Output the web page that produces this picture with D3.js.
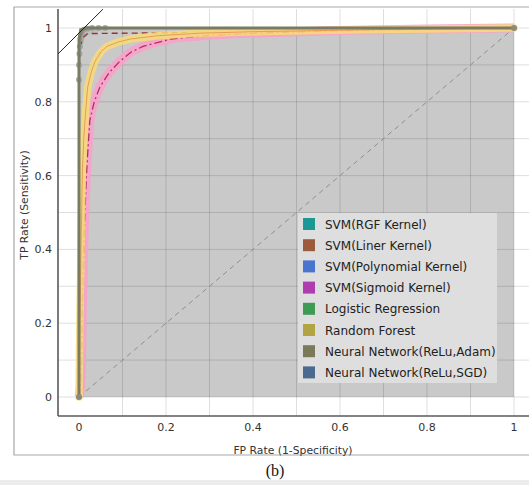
<!DOCTYPE html>
<html><head><meta charset="utf-8">
<script src="https://cdn.jsdelivr.net/npm/d3@7"></script>
<style>html,body{margin:0;padding:0;background:#fff;}svg{display:block;}</style>
</head><body>
<svg id="c" width="529" height="485"></svg>
<script>
// ---- data ----
const seriesNames = ["SVM(RGF Kernel)","SVM(Liner Kernel)","SVM(Polynomial Kernel)","SVM(Sigmoid Kernel)","Logistic Regression","Random Forest","Neural Network(ReLu,Adam)","Neural Network(ReLu,SGD)"];
const legendColors = ["#1f9795","#9c5b3d","#4b74cf","#ae3eaf","#3f9a55","#b2a443","#7a7a5a","#4a6b8e"];
const xTicks = [0,0.2,0.4,0.6,0.8,1];
const yTicks = [0,0.2,0.4,0.6,0.8,1];
const gridVals = [0.1,0.2,0.3,0.4,0.5,0.6,0.7,0.8,0.9,1];
const yGridVals = [0,0.1,0.2,0.3,0.4,0.5,0.6,0.7,0.8,0.9,1];

const rbfFpr = [0,0,0.002,0.006,0.015,0.04,1];
const rbfTpr = [0,0.9,0.96,0.985,0.995,1,1];
const linFpr = [0,0,0.003,0.01,0.02,0.3,0.45,1];
const linTpr = [0,0.88,0.95,0.975,0.985,0.988,0.99,1];
const polyFpr = [0,0,0.003,0.01,0.025,0.06,1];
const polyTpr = [0,0.89,0.95,0.98,0.993,1,1];
const sigFpr = [0,0.005,0.008,0.012,0.017,0.021,0.025,0.035,0.048,0.07,0.094,0.12,0.147,0.21,0.3,0.45,0.6,0.8,1];
const sigTpr = [0,0.05,0.26,0.45,0.6,0.68,0.75,0.8,0.84,0.88,0.91,0.935,0.95,0.97,0.98,0.988,0.993,0.997,1];
const logFpr = [0,0,0.004,0.012,0.03,0.07,1];
const logTpr = [0,0.87,0.94,0.975,0.99,1,1];
const rfFpr = [0,0.002,0.004,0.006,0.008,0.011,0.015,0.02,0.028,0.037,0.05,0.064,0.09,0.117,0.18,0.28,0.4,0.55,0.7,0.85,1];
const rfTpr = [0,0.2,0.35,0.5,0.62,0.7,0.77,0.84,0.88,0.91,0.935,0.95,0.962,0.97,0.979,0.986,0.99,0.993,0.996,0.998,1];
const adamFpr = [0,0,0.004,0.015,1];
const adamTpr = [0,0.97,0.995,1,1];
const sgdFpr = [0,0,0,0.001,0.002,0.004,0.007,0.012,0.02,0.03,0.045,0.06,1];
const sgdTpr = [0,0.86,0.9,0.93,0.95,0.97,0.985,0.995,0.998,1,1,1,1];
const chanceFpr = [0,1];
const chanceTpr = [0,1];
const cornerLineX = [-0.048,0.055];
const cornerLineY = [0.93,1.051];

// ---- drawing ----
const svg = d3.select("#c");
const x = d3.scaleLinear().domain([0,1]).range([79,514]);
const y = d3.scaleLinear().domain([0,1]).range([397,28]);
const xMin = x.invert(58), yMin = y.invert(416), yMax = y.invert(9);

svg.append("rect").attr("x",0).attr("y",480).attr("width",529).attr("height",5).attr("fill","#ececec");
svg.append("path").attr("d","M529,7 H14 V455 H529").attr("fill","none").attr("stroke","#a8a8a8").attr("stroke-width",1.2);

const pts = (fx,fy)=>fx.map((v,i)=>[v,fy[i]]);
const line = d3.line().x(d=>x(d[0])).y(d=>y(d[1]));

const area = d3.area().x(d=>x(d[0])).y0(y(0)).y1(d=>y(d[1]));
svg.append("path").datum(pts([0,0,1],[0,1,1])).attr("d",area).attr("fill","#c9c9c9");

const g = svg.append("g");
g.selectAll(".vg").data(gridVals).join("line")
  .attr("x1",d=>x(d)).attr("x2",d=>x(d)).attr("y1",y(yMax)).attr("y2",y(yMin))
  .attr("stroke","rgba(0,0,0,0.13)").attr("stroke-width",1);
g.selectAll(".hg").data(yGridVals).join("line")
  .attr("x1",x(xMin)).attr("x2",529).attr("y1",d=>y(d)).attr("y2",d=>y(d))
  .attr("stroke","rgba(0,0,0,0.13)").attr("stroke-width",1);

svg.append("path").datum(pts(chanceFpr,chanceTpr)).attr("d",line).attr("fill","none")
  .attr("stroke","#8f8f8f").attr("stroke-width",1).attr("stroke-dasharray","5,4");

[[rbfFpr,rbfTpr,"#e8b0a0"],[polyFpr,polyTpr,"#b7b7d8"],[logFpr,logTpr,"#a9c0a9"]].forEach(s=>{
  svg.append("path").datum(pts(s[0],s[1])).attr("d",line).attr("fill","none")
    .attr("stroke",s[2]).attr("stroke-width",1.5).attr("opacity",0.8);
});
svg.append("path").datum(pts(linFpr,linTpr)).attr("d",line).attr("fill","none")
  .attr("stroke","#a0302a").attr("stroke-width",1.4).attr("stroke-dasharray","6,4");

// sigmoid pink band + dash-dot
svg.append("path").datum(pts(sigFpr,sigTpr)).attr("d",line.curve(d3.curveMonotoneX)).attr("fill","none")
  .attr("stroke","#f7a2ca").attr("stroke-width",9).attr("opacity",0.9).attr("stroke-linejoin","round");
line.curve(d3.curveLinear);
svg.append("path").datum(pts(sigFpr,sigTpr)).attr("d",line).attr("fill","none")
  .attr("stroke","#b0305f").attr("stroke-width",1.3).attr("stroke-dasharray","8,3,2,3");

// random forest yellow band + thin line
svg.append("path").datum(pts(rfFpr,rfTpr)).attr("d",line).attr("fill","none")
  .attr("stroke","#f8db78").attr("stroke-width",7.5).attr("opacity",0.85).attr("stroke-linejoin","round").attr("stroke-linecap","round");
svg.append("path").datum(pts(rfFpr,rfTpr)).attr("d",line).attr("fill","none")
  .attr("stroke","#e09048").attr("stroke-width",0.8);

svg.selectAll(".sgd").data(pts(sgdFpr,sgdTpr).slice(1,12)).join("circle")
  .attr("cx",d=>x(d[0])).attr("cy",d=>y(d[1])).attr("r",3).attr("fill","#a0a0a0").attr("opacity",0.9);
svg.append("path").datum(pts(sgdFpr,sgdTpr)).attr("d",line).attr("fill","none")
  .attr("stroke","#8a8a8a").attr("stroke-width",1.5);

svg.append("path").datum(pts(adamFpr,adamTpr)).attr("d",line).attr("fill","none")
  .attr("stroke","#7b7b64").attr("stroke-width",3).attr("stroke-linejoin","round");
svg.selectAll(".end").data([[0,0],[1,1]]).join("circle")
  .attr("cx",d=>x(d[0])).attr("cy",d=>y(d[1])).attr("r",3).attr("fill","#8a8a7a");

svg.append("line").attr("x1",x(xMin)).attr("x2",x(xMin)).attr("y1",y(yMax)).attr("y2",y(yMin)).attr("stroke","#5a5a5a").attr("stroke-width",1.6);
svg.append("line").attr("x1",x(xMin)).attr("x2",529).attr("y1",y(yMin)).attr("y2",y(yMin)).attr("stroke","#5a5a5a").attr("stroke-width",1.6);

svg.append("path").datum(pts(cornerLineX,cornerLineY)).attr("d",line).attr("stroke","#222").attr("stroke-width",1).attr("fill","none");

const font = "Tahoma, 'DejaVu Sans', sans-serif";
svg.selectAll(".xt").data(xTicks).join("text").attr("x",d=>x(d)).attr("y",431)
  .attr("text-anchor","middle").attr("font-family",font).attr("font-size",11).attr("fill","#333").text(d=>d);
svg.selectAll(".yt").data(yTicks).join("text").attr("x",52).attr("y",d=>y(d)+4)
  .attr("text-anchor","end").attr("font-family",font).attr("font-size",11).attr("fill","#333").text(d=>d);

svg.append("text").attr("x",293).attr("y",454).attr("text-anchor","middle").attr("font-family",font).attr("font-size",10.8).attr("fill","#333").text("FP Rate (1-Specificity)");
svg.append("text").attr("transform","translate(28,205) rotate(-90)").attr("text-anchor","middle").attr("font-family",font).attr("font-size",10.8).attr("fill","#333").text("TP Rate (Sensitivity)");
svg.append("text").attr("x",275).attr("y",476).attr("text-anchor","middle").attr("font-family","'Liberation Serif','Times New Roman',serif").attr("font-size",16).attr("fill","#111").text("(b)");

const lg = svg.append("g");
lg.append("rect").attr("x",298).attr("y",213).attr("width",199).attr("height",170).attr("fill","#dedede");
const items = lg.selectAll(".li").data(seriesNames).join("g").attr("transform",(d,i)=>`translate(303,${224+i*21.2})`);
items.append("rect").attr("x",0).attr("y",-6).attr("width",12).attr("height",12).attr("fill",(d,i)=>legendColors[i]);
items.append("text").attr("x",22).attr("y",4.5).attr("font-family",font).attr("font-size",12).attr("fill","#222").text(d=>d);
</script>
</body></html>
